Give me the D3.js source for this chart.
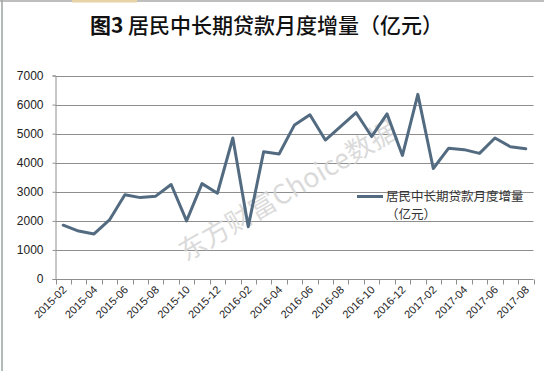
<!DOCTYPE html>
<html>
<head>
<meta charset="utf-8">
<script src="https://cdn.jsdelivr.net/npm/d3@7"></script>
<style>
  body { margin: 0; background: #fff; }
  svg { display: block; }
  text { font-family: "Liberation Sans", Arial, sans-serif; }
  .cjk { font-family: "Noto Sans CJK SC", sans-serif; }
</style>
</head>
<body>
<svg id="chart" width="544" height="371"></svg>
<script>
// months 2015-02 .. 2017-08
const months = [
  '2015-02', '2015-03', '2015-04', '2015-05', '2015-06', '2015-07', '2015-08',
  '2015-09', '2015-10', '2015-11', '2015-12', '2016-01', '2016-02', '2016-03',
  '2016-04', '2016-05', '2016-06', '2016-07', '2016-08', '2016-09', '2016-10',
  '2016-11', '2016-12', '2017-01', '2017-02', '2017-03', '2017-04', '2017-05',
  '2017-06', '2017-07', '2017-08',
];
// 居民中长期贷款月度增量 (亿元)
const loans = [
  1850, 1650, 1550, 2030, 2900, 2800, 2850,
  3250, 2000, 3280, 2950, 4850, 1800, 4380,
  4300, 5300, 5650, 4780, 5250, 5720, 4900,
  5680, 4250, 6350, 3800, 4500, 4450, 4320,
  4850, 4550, 4480,
];
const yTicks = [0, 1000, 2000, 3000, 4000, 5000, 6000, 7000];

const titleHead = '图3';
const titleRest = ' 居民中长期贷款月度增量（亿元）';
const seriesName = ['居民中长期贷款月度增量', '（亿元）'];
const watermark = '东方财富Choice数据';

const lineColor = '#536b80';
const gridColor = '#8e8e8e';

const svg = d3.select('#chart');

// frame bits of the screenshot
svg.append('line').attr('x1', 2).attr('x2', 2).attr('y1', 0).attr('y2', 371)
  .attr('stroke', '#9aa59f').attr('stroke-width', 1.5);
svg.append('line').attr('x1', 0).attr('x2', 544).attr('y1', 1).attr('y2', 1)
  .attr('stroke', '#a9a9a9').attr('stroke-width', 1.5);
svg.append('rect').attr('x', 72).attr('y', 0).attr('width', 65).attr('height', 2.5)
  .attr('fill', '#e8d3a8');

const x = d3.scaleBand().domain(months).range([55.5, 533.5]).padding(0);
const y = d3.scaleLinear().domain([0, 7000]).range([279, 75.5]);

// grid
svg.append('g')
  .selectAll('line')
  .data(yTicks.filter((d) => d > 0))
  .join('line')
  .attr('x1', 55.5)
  .attr('x2', 533.5)
  .attr('y1', (d) => Math.round(y(d)) + 0.5)
  .attr('y2', (d) => Math.round(y(d)) + 0.5)
  .attr('stroke', gridColor);

// y axis
const yAxis = svg.append('g')
  .attr('transform', 'translate(55.5,0)')
  .call(d3.axisLeft(y).tickValues(yTicks).tickSize(3).tickPadding(9).tickFormat(d3.format('d')));
yAxis.select('.domain').attr('stroke', gridColor);
yAxis.selectAll('.tick line').attr('stroke', gridColor);
yAxis.selectAll('text').attr('font-size', 12).attr('fill', '#222');

// x axis: ticks on category boundaries
const xg = svg.append('g');
const base = Math.round(y(0)) + 0.5;
xg.append('line').attr('x1', 55.5).attr('x2', 533.5).attr('y1', base).attr('y2', base)
  .attr('stroke', gridColor);
const bounds = months.map((m) => x(m)).concat([x.range()[1]]);
xg.selectAll('line.tk')
  .data(bounds)
  .join('line')
  .attr('class', 'tk')
  .attr('x1', (d) => Math.round(d) + 0.5)
  .attr('x2', (d) => Math.round(d) + 0.5)
  .attr('y1', base)
  .attr('y2', base + 5)
  .attr('stroke', gridColor);
xg.selectAll('text')
  .data(months.filter((m, i) => i % 2 === 0))
  .join('text')
  .attr('transform', (d) => `translate(${x(d) + x.bandwidth() / 2 + 4},${base + 11}) rotate(-45)`)
  .attr('text-anchor', 'end')
  .attr('font-size', 11)
  .attr('fill', '#222')
  .text((d) => d);

// watermark
svg.append('text')
  .attr('class', 'cjk')
  .attr('transform', 'translate(186,262) rotate(-30.5)')
  .attr('font-size', 27)
  .attr('fill', '#d4d4d4')
  .attr('fill-opacity', 0.85)
  .text(watermark);

// series line
const line = d3.line()
  .x((d, i) => x(months[i]) + x.bandwidth() / 2)
  .y((d) => y(d));
svg.append('path')
  .datum(loans)
  .attr('d', line)
  .attr('fill', 'none')
  .attr('stroke', lineColor)
  .attr('stroke-width', 3)
  .attr('stroke-linejoin', 'round')
  .attr('stroke-linecap', 'round');

// legend, two lines
svg.append('line').attr('x1', 357).attr('x2', 383).attr('y1', 196.5).attr('y2', 196.5)
  .attr('stroke', lineColor).attr('stroke-width', 3);
svg.append('g')
  .selectAll('text')
  .data(seriesName)
  .join('text')
  .attr('class', 'cjk')
  .attr('font-size', 12.5)
  .attr('fill', '#333')
  .attr('x', 386)
  .attr('y', (d, i) => 200.5 + i * 18.5)
  .text((d) => d);

// title
const t = svg.append('text')
  .attr('class', 'cjk')
  .attr('x', 90)
  .attr('y', 33)
  .attr('font-size', 21)
  .attr('fill', '#111');
t.append('tspan').attr('font-weight', 700).text(titleHead);
t.append('tspan').attr('font-weight', 500).text(titleRest);
</script>
</body>
</html>
